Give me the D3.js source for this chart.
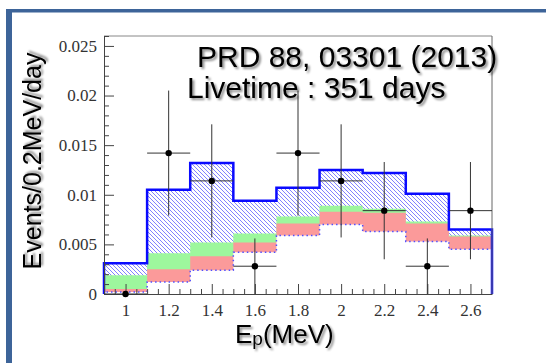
<!DOCTYPE html>
<html>
<head>
<meta charset="utf-8">
<script src="https://cdn.jsdelivr.net/npm/d3@7"></script>
<style>
  body { margin: 0; background: #fff; }
  svg { display: block; }
</style>
</head>
<body>
<svg id="chart" width="546" height="363"></svg>
<script>
// bin centres (MeV), bin width 0.2
const binCenters = [1.0, 1.2, 1.4, 1.6, 1.8, 2.0, 2.2, 2.4, 2.6];
// background layers, Events/0.2MeV/day
const totalBkg = [0.0031, 0.0105, 0.0132, 0.0094, 0.0107, 0.0125, 0.0122, 0.0101, 0.0065];
const greenBkg = [0.0019, 0.0041, 0.0052, 0.0061, 0.0078, 0.0089, 0.0086, 0.0073, 0.0059];
const pinkBkg  = [0.0005, 0.0025, 0.0038, 0.0052, 0.0071, 0.0083, 0.0082, 0.0071, 0.0058];
const whiteBkg = [0.0002, 0.0012, 0.0024, 0.0042, 0.0059, 0.0070, 0.0063, 0.0053, 0.0045];
// observed data with errors
const dataY   = [0, 0.0142, 0.0114, 0.0028, 0.0142, 0.0114, 0.0084, 0.0028, 0.0084];
const dataErr = [0, 0.0063, 0.0057, 0.0028, 0.0063, 0.0057, 0.0049, 0.0028, 0.0049];
// ticks
const xTicks = [1, 1.2, 1.4, 1.6, 1.8, 2, 2.2, 2.4, 2.6];
const xTickLabels = ["1", "1.2", "1.4", "1.6", "1.8", "2", "2.2", "2.4", "2.6"];
const yTicks = [0, 0.005, 0.01, 0.015, 0.02, 0.025];
const yTickLabels = ["0", "0.005", "0.01", "0.015", "0.02", "0.025"];

const binWidth = 0.2;
const svg = d3.select("#chart");

const x = d3.scaleLinear().domain([0.9, 2.7]).range([104, 492]);
const y = d3.scaleLinear().domain([0, 0.026]).range([294, 36]);

const defs = svg.append("defs");

// blue hatch
const pat = defs.append("pattern")
    .attr("id", "hatch")
    .attr("patternUnits", "userSpaceOnUse")
    .attr("width", 4)
    .attr("height", 4);
pat.append("rect").attr("width", 4).attr("height", 4).attr("fill", "#ffffff");
pat.append("path")
    .attr("d", "M0,0 L4,4 M-1,3 L1,5 M3,-1 L5,1")
    .attr("stroke", "#5858ff")
    .attr("stroke-width", 1);

// soft drop shadow for the big texts
const shadow = defs.append("filter")
    .attr("id", "shadow")
    .attr("x", "-10%").attr("y", "-30%")
    .attr("width", "130%").attr("height", "160%");
shadow.append("feDropShadow")
    .attr("dx", 2).attr("dy", 2)
    .attr("stdDeviation", 1.2)
    .attr("flood-color", "#000")
    .attr("flood-opacity", 0.45);

// outer blue frame (cut off at right/bottom)
svg.append("rect").attr("x", 6).attr("y", 9).attr("width", 6).attr("height", 354).attr("fill", "#3d6499");
svg.append("rect").attr("x", 6).attr("y", 9).attr("width", 540).attr("height", 3.5).attr("fill", "#3d6499");

// step path helpers
function stepPoints(vals) {
    const pts = [[x(0.9), y(0)]];
    vals.forEach((v, i) => {
        const x0 = x(binCenters[i] - binWidth / 2);
        const x1 = x(binCenters[i] + binWidth / 2);
        pts.push([x0, y(v)], [x1, y(v)]);
    });
    pts.push([x(2.7), y(0)]);
    return pts;
}
const stepArea = vals => "M" + stepPoints(vals).map(p => p.join(",")).join("L") + "Z";
const stepLine = vals => "M" + stepPoints(vals).map(p => p.join(",")).join("L");

const plot = svg.append("g");

// total background, hatched
plot.append("path").attr("d", stepArea(totalBkg)).attr("fill", "url(#hatch)").attr("fill-opacity", 0.75);
plot.append("path").attr("d", stepArea(greenBkg)).attr("fill", "#9df79d");
plot.append("path").attr("d", stepArea(pinkBkg)).attr("fill", "#fb9a9a");
plot.append("path").attr("d", stepArea(whiteBkg)).attr("fill", "#ffffff");
plot.append("path").attr("d", stepLine(whiteBkg))
    .attr("fill", "none")
    .attr("stroke", "#5050ff")
    .attr("stroke-width", 1.5)
    .attr("stroke-dasharray", "1.5,3");
plot.append("path").attr("d", stepLine(totalBkg))
    .attr("fill", "none")
    .attr("stroke", "#0a0aff")
    .attr("stroke-width", 2.5);

// frame top/right
svg.append("line").attr("x1", 104).attr("x2", 492).attr("y1", 36).attr("y2", 36)
    .attr("stroke", "#888").attr("stroke-width", 1);
svg.append("line").attr("x1", 492).attr("x2", 492).attr("y1", 36).attr("y2", 294)
    .attr("stroke", "#666").attr("stroke-width", 1);

// axes
const tickFont = "'Liberation Serif', 'Times New Roman', serif";

const xMinor = d3.range(0.95, 2.7, 0.05).filter(v => Math.abs(Math.round(v / 0.2) * 0.2 - v) > 0.01);
svg.append("g").attr("transform", `translate(0,${y(0)})`)
    .call(d3.axisBottom(x).tickValues(xMinor).tickSize(-5).tickSizeOuter(0).tickFormat(""))
    .call(g => g.select(".domain").remove())
    .selectAll("line").attr("stroke", "#444");

const yMinor = d3.range(0.001, 0.0261, 0.001).filter(v => Math.abs(Math.round(v / 0.005) * 0.005 - v) > 0.0001);
svg.append("g").attr("transform", `translate(${x(0.9)},0)`)
    .call(d3.axisLeft(y).tickValues(yMinor).tickSize(-5).tickSizeOuter(0).tickFormat(""))
    .call(g => g.select(".domain").remove())
    .selectAll("line").attr("stroke", "#444");

const xAxis = svg.append("g").attr("transform", `translate(0,${y(0)})`)
    .call(d3.axisBottom(x).tickValues(xTicks).tickSize(-10).tickSizeOuter(0).tickPadding(10)
        .tickFormat((d, i) => xTickLabels[i]));
xAxis.select(".domain").attr("stroke", "#444");
xAxis.selectAll("line").attr("stroke", "#444");
xAxis.selectAll("text").style("font-family", tickFont).style("font-size", "17px").attr("fill", "#333");

const yAxis = svg.append("g").attr("transform", `translate(${x(0.9)},0)`)
    .call(d3.axisLeft(y).tickValues(yTicks).tickSize(-10).tickSizeOuter(0).tickPadding(7)
        .tickFormat((d, i) => yTickLabels[i]));
yAxis.select(".domain").attr("stroke", "#444");
yAxis.selectAll("line").attr("stroke", "#444");
yAxis.selectAll("text").style("font-family", tickFont).style("font-size", "17px").attr("fill", "#333");

// data points with error bars
const pts = svg.append("g");
binCenters.forEach((c, i) => {
    const cx = x(c), cy = y(dataY[i]);
    pts.append("line")
        .attr("x1", x(c - binWidth / 2)).attr("x2", x(c + binWidth / 2))
        .attr("y1", cy).attr("y2", cy)
        .attr("stroke", "#333").attr("stroke-width", 1);
    if (dataErr[i] > 0) {
        pts.append("line")
            .attr("x1", cx).attr("x2", cx)
            .attr("y1", y(dataY[i] + dataErr[i])).attr("y2", y(Math.max(0, dataY[i] - dataErr[i])))
            .attr("stroke", "#333").attr("stroke-width", 1);
    }
    pts.append("circle").attr("cx", cx).attr("cy", cy).attr("r", 3.2).attr("fill", "#000");
});

// texts
const sans = "'Liberation Sans', Arial, sans-serif";
svg.append("text")
    .attr("x", 197).attr("y", 67)
    .style("font-family", sans).style("font-size", "30px")
    .attr("filter", "url(#shadow)")
    .text("PRD 88, 03301 (2013)");
svg.append("text")
    .attr("x", 187).attr("y", 98)
    .style("font-family", sans).style("font-size", "30px")
    .attr("filter", "url(#shadow)")
    .text("Livetime : 351 days");

svg.append("text")
    .attr("transform", "translate(41,161) rotate(-90)")
    .attr("text-anchor", "middle")
    .style("font-family", sans).style("font-size", "25px")
    .attr("filter", "url(#shadow)")
    .text("Events/0.2MeV/day");

const xl = svg.append("text")
    .attr("x", 235).attr("y", 343)
    .style("font-family", sans).style("font-size", "26px")
    .attr("filter", "url(#shadow)");
xl.append("tspan").text("E");
xl.append("tspan").attr("dy", 2).style("font-size", "19px").text("p");
xl.append("tspan").attr("dy", -2).text("(MeV)");
</script>
</body>
</html>
